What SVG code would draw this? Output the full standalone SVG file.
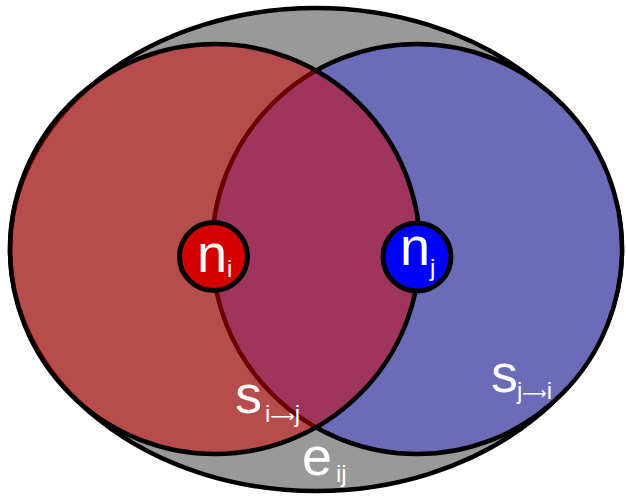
<svg xmlns="http://www.w3.org/2000/svg" width="626" height="501" viewBox="0 0 626 501">
<style>
.big{font-family:"Liberation Sans",Arial,sans-serif;font-size:54px;fill:#ffffff}
.sub{font-family:"Liberation Sans",Arial,sans-serif;font-size:24px;fill:#ffffff}
.arr{font-family:"DejaVu Sans",sans-serif;font-size:17px}
.edge{stroke:#000000;stroke-width:4.5}
</style>
<g id="edge_eij">
<ellipse cx="316" cy="249.5" rx="306" ry="241.5" fill="#999999" class="edge"/>
</g>
<g id="region_sji">
<circle cx="417" cy="249" r="205" fill="#6b6bb8" class="edge"/>
</g>
<g id="region_sij">
<circle cx="215" cy="249" r="205" fill="#d40000" fill-opacity="0.5" class="edge"/>
</g>
<g id="node_ni">
<circle cx="213.5" cy="256.5" r="34" fill="#d40000" stroke="#000" stroke-width="5"/>
<text class="big" x="197" y="272">n</text>
<text class="sub" x="227" y="277">i</text>
</g>
<g id="node_nj">
<circle cx="417" cy="257" r="34" fill="#0000ff" stroke="#000" stroke-width="5"/>
<text class="big" x="400" y="265">n</text>
<text class="sub" x="430" y="276">j</text>
</g>
<g id="labels">
<text class="big" x="235" y="413">s</text>
<text class="sub" x="265" y="422">i<tspan class="arr">⟶</tspan>j</text>
<text class="big" x="491" y="392">s</text>
<text class="sub" x="517" y="399">j<tspan class="arr">⟶</tspan>i</text>
<text class="big" x="302" y="475">e</text>
<text class="sub" x="336" y="482">ij</text>
</g>
</svg>
